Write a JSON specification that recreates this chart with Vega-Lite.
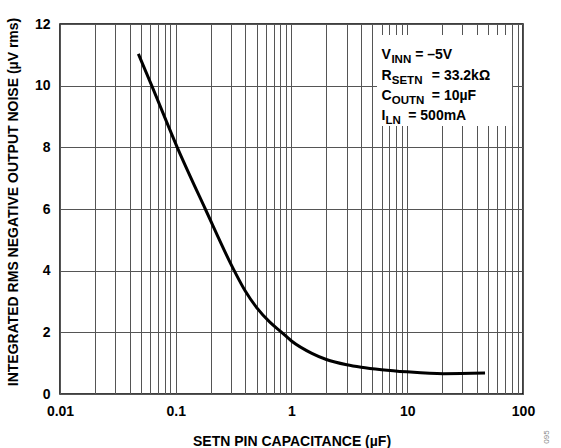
{
  "$schema": "https://vega.github.io/schema/vega-lite/v6.json",
  "width": 463,
  "height": 370,
  "autosize": "none",
  "padding": {"left": 60, "top": 24, "right": 38, "bottom": 54},
  "background": "white",
  "config": {
    "font": "Liberation Sans",
    "view": {"stroke": "black", "strokeWidth": 1.5},
    "axis": {
      "labelFont": "Liberation Sans",
      "titleFont": "Liberation Sans",
      "labelFontWeight": "bold",
      "titleFontWeight": "bold",
      "labelFontSize": 14,
      "titleFontSize": 14,
      "labelColor": "black",
      "titleColor": "black",
      "domain": false,
      "ticks": false,
      "tickSize": 0,
      "gridColor": "#555555",
      "gridOpacity": 1,
      "gridWidth": 1
    }
  },
  "datasets": {
    "curve": [
      {"c": 0.0475, "noise": 11.03},
      {"c": 0.062, "noise": 10.0},
      {"c": 0.103, "noise": 8.0},
      {"c": 0.18, "noise": 6.0},
      {"c": 0.32, "noise": 4.0},
      {"c": 0.4, "noise": 3.33},
      {"c": 0.5, "noise": 2.8},
      {"c": 0.65, "noise": 2.33},
      {"c": 0.822, "noise": 2.0},
      {"c": 1.0, "noise": 1.72},
      {"c": 1.5, "noise": 1.32},
      {"c": 2.0, "noise": 1.12},
      {"c": 3.0, "noise": 0.95},
      {"c": 4.0, "noise": 0.87},
      {"c": 6.0, "noise": 0.79},
      {"c": 9.9, "noise": 0.72},
      {"c": 20.5, "noise": 0.66},
      {"c": 47, "noise": 0.68}
    ],
    "box": [{"x1": 5.48, "x2": 80.4, "y1": 8.69, "y2": 11.64}],
    "legend": [
      {"kind": "base", "x": 6.0, "y": 10.876, "t": "V"},
      {"kind": "sub", "x": 7.3, "y": 10.876, "t": "INN"},
      {"kind": "base", "x": 11.7, "y": 10.876, "t": "= –5V"},
      {"kind": "base", "x": 6.0, "y": 10.2, "t": "R"},
      {"kind": "sub", "x": 7.35, "y": 10.2, "t": "SETN"},
      {"kind": "base", "x": 16.3, "y": 10.2, "t": "= 33.2kΩ"},
      {"kind": "base", "x": 6.0, "y": 9.52, "t": "C"},
      {"kind": "sub", "x": 7.35, "y": 9.52, "t": "OUTN"},
      {"kind": "base", "x": 16.3, "y": 9.52, "t": "= 10µF"},
      {"kind": "base", "x": 6.0, "y": 8.887, "t": "I"},
      {"kind": "sub", "x": 6.5, "y": 8.887, "t": "LN"},
      {"kind": "base", "x": 10.2, "y": 8.887, "t": "= 500mA"}
    ],
    "code": [{"x": 161, "y": -1.395, "t": "095"}]
  },
  "encoding": {
    "x": {
      "field": "c",
      "type": "quantitative",
      "scale": {"type": "log", "domain": [0.01, 100]},
      "axis": {
        "title": "SETN PIN CAPACITANCE (µF)",
        "titleBaseline": "alphabetic",
        "titleY": 51,
        "labelPadding": 10,
        "labelFlush": false,
        "labelOverlap": false,
        "values": [0.01,0.02,0.03,0.04,0.05,0.06,0.07,0.08,0.09,0.1,0.2,0.3,0.4,0.5,0.6,0.7,0.8,0.9,1,2,3,4,5,6,7,8,9,10,20,30,40,50,60,70,80,90,100],
        "labelExpr": "datum.value == 0.01 ? '0.01' : datum.value == 0.1 ? '0.1' : datum.value == 1 ? '1' : datum.value == 10 ? '10' : datum.value == 100 ? '100' : ''"
      }
    },
    "y": {
      "field": "noise",
      "type": "quantitative",
      "scale": {"domain": [0, 12], "nice": false, "zero": true},
      "axis": {
        "title": "INTEGRATED RMS NEGATIVE OUTPUT NOISE (µV rms)",
        "values": [0, 2, 4, 6, 8, 10, 12],
        "labelPadding": 10,
        "labelFlush": false,
        "titleBaseline": "alphabetic",
        "titleX": -42.5,
        "titleY": 177.5,
        "titleAngle": 270
      }
    }
  },
  "layer": [
    {
      "data": {"name": "curve"},
      "mark": {"type": "line", "color": "black", "strokeWidth": 3, "interpolate": "monotone"}
    },
    {
      "data": {"name": "box"},
      "mark": {"type": "rect", "fill": "white", "stroke": null},
      "encoding": {
        "x": {"field": "x1", "type": "quantitative"},
        "x2": {"field": "x2"},
        "y": {"field": "y1", "type": "quantitative"},
        "y2": {"field": "y2"}
      }
    },
    {
      "data": {"name": "legend"},
      "transform": [{"filter": "datum.kind == 'base'"}],
      "mark": {"type": "text", "align": "left", "baseline": "alphabetic", "font": "Liberation Sans", "fontWeight": "bold", "fontSize": 14, "color": "black"},
      "encoding": {
        "x": {"field": "x", "type": "quantitative"},
        "y": {"field": "y", "type": "quantitative"},
        "text": {"field": "t"}
      }
    },
    {
      "data": {"name": "legend"},
      "transform": [{"filter": "datum.kind == 'sub'"}],
      "mark": {"type": "text", "align": "left", "baseline": "alphabetic", "dy": 4, "font": "Liberation Sans", "fontWeight": "bold", "fontSize": 11.5, "color": "black"},
      "encoding": {
        "x": {"field": "x", "type": "quantitative"},
        "y": {"field": "y", "type": "quantitative"},
        "text": {"field": "t"}
      }
    },
    {
      "data": {"name": "code"},
      "mark": {"type": "text", "angle": 270, "align": "center", "baseline": "middle", "font": "Liberation Sans", "fontSize": 8, "color": "#888888", "clip": false},
      "encoding": {
        "x": {"field": "x", "type": "quantitative"},
        "y": {"field": "y", "type": "quantitative"},
        "text": {"field": "t"}
      }
    }
  ]
}
